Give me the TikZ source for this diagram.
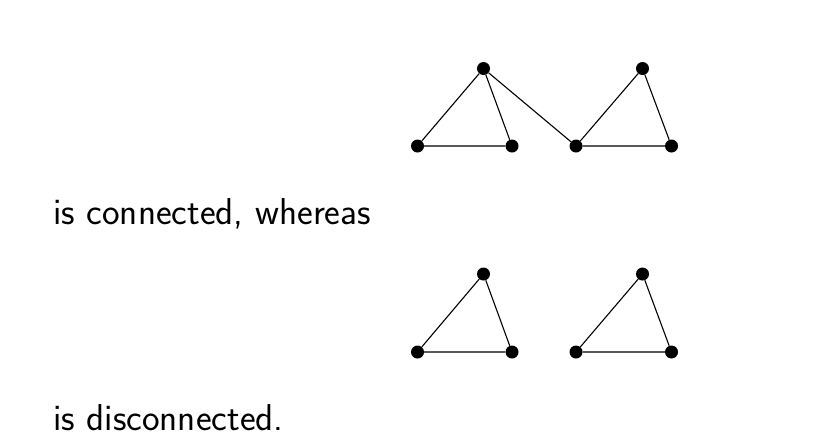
\documentclass[tikz,border=0pt]{standalone}
\begin{document}
\begin{tikzpicture}[x=1pt,y=-1pt,
  vert/.style={circle,fill=black,inner sep=0pt,minimum size=13pt},
  edge/.style={line width=1.1pt},
  label/.style={anchor=base west,inner sep=0pt,font=\sffamily\fontsize{37.4}{44}\selectfont}]
\useasboundingbox (0,0) rectangle (838,440);
% top graph
\node[vert] (a1) at (483.5,68.5) {};
\node[vert] (b1) at (417.5,146) {};
\node[vert] (c1) at (512,146) {};
\node[vert] (d1) at (576,146) {};
\node[vert] (e1) at (642.5,68.5) {};
\node[vert] (f1) at (671.5,146) {};
\draw[edge] (a1) -- (b1) (a1) -- (c1) (b1) -- (c1) (a1) -- (d1)
  (d1) -- (e1) (e1) -- (f1) (d1) -- (f1);
% bottom graph
\node[vert] (a2) at (483.5,274) {};
\node[vert] (b2) at (417.5,352) {};
\node[vert] (c2) at (512,352) {};
\node[vert] (d2) at (576,352) {};
\node[vert] (e2) at (642.5,274) {};
\node[vert] (f2) at (671.5,352) {};
\draw[edge] (a2) -- (b2) (a2) -- (c2) (b2) -- (c2)
  (d2) -- (e2) (e2) -- (f2) (d2) -- (f2);
\node[label] (t1) at (53,224) {is connected, whereas};
\node[label] (t2) at (53,430) {is disconnected.};
\end{tikzpicture}
\end{document}
